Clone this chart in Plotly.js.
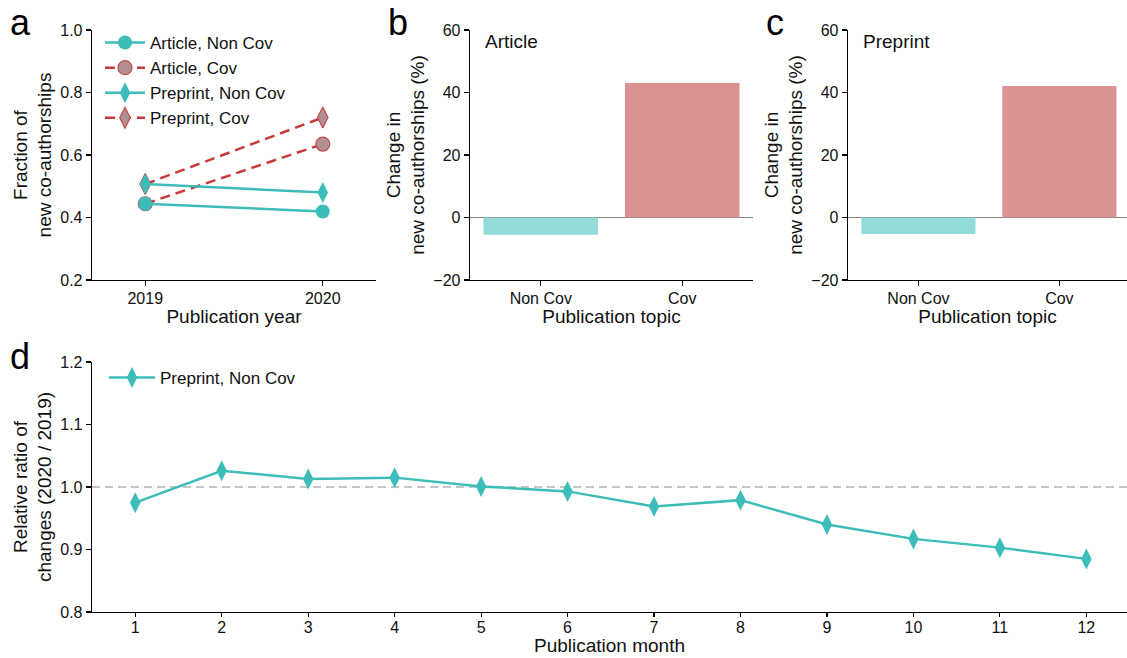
<!DOCTYPE html>
<html>
<head>
<meta charset="utf-8">
<script src="https://cdn.plot.ly/plotly-3.0.1.min.js"></script>
<style>html,body{margin:0;padding:0;background:#fff;}#chart{width:1127px;height:658px;}</style>
</head>
<body>
<div id="chart"></div>
<script>
// ---- Data ----
const years = [2019, 2020];
const articleNonCov = [0.444, 0.419];
const articleCov = [0.444, 0.635];
const preprintNonCov = [0.507, 0.480];
const preprintCov = [0.507, 0.720];

const topics = ["Non Cov", "Cov"];
const articleChange = [-5.5, 43.0];
const preprintChange = [-5.3, 42.1];

const months = [1,2,3,4,5,6,7,8,9,10,11,12];
const preprintNonCovRatio = [0.975, 1.026, 1.013, 1.015, 1.001, 0.993, 0.969, 0.979, 0.940, 0.917, 0.903, 0.885];

// ---- Styles ----
const TEAL = "#3dbdb9";
const RED = "#c93b3b";
const COVMK = "#b09090";
const FONT = "Liberation Sans, Arial, Helvetica, sans-serif";
const W = 1127, H = 658;
const px = v => v / W;
const py = v => 1 - v / H;

const traces = [
  {x: years, y: articleCov, type: "scatter", mode: "lines+markers", name: "Article, Cov",
   line: {color: RED, width: 2.5, dash: "10px,6px"},
   marker: {symbol: "circle", size: 14, color: COVMK, line: {color: "#c24a4a", width: 1.2}},
   xaxis: "x", yaxis: "y", legend: "legend", legendrank: 2},
  {x: years, y: preprintCov, type: "scatter", mode: "lines+markers", name: "Preprint, Cov",
   line: {color: RED, width: 2.5, dash: "10px,6px"},
   marker: {symbol: "diamond-tall", size: 15, color: COVMK, line: {color: "#c24a4a", width: 1.2}},
   xaxis: "x", yaxis: "y", legend: "legend", legendrank: 4},
  {x: years, y: articleNonCov, type: "scatter", mode: "lines+markers", name: "Article, Non Cov",
   line: {color: TEAL, width: 2.5},
   marker: {symbol: "circle", size: 14, color: TEAL},
   xaxis: "x", yaxis: "y", legend: "legend", legendrank: 1},
  {x: years, y: preprintNonCov, type: "scatter", mode: "lines+markers", name: "Preprint, Non Cov",
   line: {color: TEAL, width: 2.5},
   marker: {symbol: "diamond-tall", size: 15, color: TEAL},
   xaxis: "x", yaxis: "y", legend: "legend", legendrank: 3},
  {x: topics, y: articleChange, type: "bar", width: 0.81, showlegend: false,
   marker: {color: ["#93dbd9", "#da9392"]}, xaxis: "x2", yaxis: "y2"},
  {x: topics, y: preprintChange, type: "bar", width: 0.81, showlegend: false,
   marker: {color: ["#93dbd9", "#da9392"]}, xaxis: "x3", yaxis: "y3"},
  {x: months, y: preprintNonCovRatio, type: "scatter", mode: "lines+markers", name: "Preprint, Non Cov",
   line: {color: TEAL, width: 2.5},
   marker: {symbol: "diamond-tall", size: 15, color: TEAL},
   xaxis: "x4", yaxis: "y4", legend: "legend2"}
];

const axBase = {
  showline: true, linecolor: "#000", linewidth: 1.3, mirror: false,
  ticks: "outside", ticklen: 5, tickwidth: 1.2, tickcolor: "#000",
  showgrid: false, zeroline: false,
  tickfont: {family: FONT, size: 16, color: "#111"},
  automargin: false
};
const tfont = {family: FONT, size: 19, color: "#111"};

const layout = {
  width: W, height: H,
  margin: {l: 0, r: 0, t: 0, b: 0},
  paper_bgcolor: "#fff", plot_bgcolor: "#fff",
  font: {family: FONT, color: "#111"},
  xaxis: Object.assign({}, axBase, {domain: [px(92), px(376)], range: [2018.7, 2020.3],
    tickvals: years, ticktext: ["2019", "2020"], anchor: "y", ticklabelstandoff: -2,
    title: {text: "Publication year", font: tfont, standoff: 4}}),
  yaxis: Object.assign({}, axBase, {domain: [py(280), py(30)], range: [0.2, 1.0],
    tickvals: [0.2, 0.4, 0.6, 0.8, 1.0], tickformat: ".1f", anchor: "x",
    title: {text: "Fraction of<br>new co-authorships", font: tfont, standoff: 3}}),
  xaxis2: Object.assign({}, axBase, {domain: [px(470), px(753)], range: [-0.5, 1.5],
    type: "category", anchor: "y2", ticklabelstandoff: -2,
    title: {text: "Publication topic", font: tfont, standoff: 4}}),
  yaxis2: Object.assign({}, axBase, {domain: [py(280), py(30)], range: [-20, 60],
    tickvals: [-20, 0, 20, 40, 60], anchor: "x2",
    zeroline: true, zerolinecolor: "#808080", zerolinewidth: 1.8,
    title: {text: "Change in<br>new co-authorships (%)", font: tfont, standoff: 3}}),
  xaxis3: Object.assign({}, axBase, {domain: [px(848), 1], range: [-0.5, 1.48],
    type: "category", anchor: "y3", ticklabelstandoff: -2,
    title: {text: "Publication topic", font: tfont, standoff: 4}}),
  yaxis3: Object.assign({}, axBase, {domain: [py(280), py(30)], range: [-20, 60],
    tickvals: [-20, 0, 20, 40, 60], anchor: "x3",
    zeroline: true, zerolinecolor: "#808080", zerolinewidth: 1.8,
    title: {text: "Change in<br>new co-authorships (%)", font: tfont, standoff: 3}}),
  xaxis4: Object.assign({}, axBase, {domain: [px(92), 1], range: [0.5, 12.47],
    tickvals: months, anchor: "y4", ticklen: 4, ticklabelstandoff: -4,
    title: {text: "Publication month", font: tfont, standoff: 1}}),
  yaxis4: Object.assign({}, axBase, {domain: [py(612), py(362)], range: [0.8, 1.2],
    tickvals: [0.8, 0.9, 1.0, 1.1, 1.2], tickformat: ".1f", anchor: "x4",
    title: {text: "Relative ratio of<br>changes (2020 / 2019)", font: tfont, standoff: 3}}),
  legend: {x: px(100), y: py(25), xanchor: "left", yanchor: "top",
    bgcolor: "rgba(0,0,0,0)", font: {family: FONT, size: 17, color: "#111"},
    tracegroupgap: 0, itemwidth: 40, traceorder: "normal"},
  legend2: {x: px(104), y: py(360), xanchor: "left", yanchor: "top",
    bgcolor: "rgba(0,0,0,0)", font: {family: FONT, size: 17, color: "#111"}, itemwidth: 46},
  shapes: [
    {type: "line", xref: "x4 domain", yref: "y4", x0: 0, x1: 1, y0: 1.0, y1: 1.0,
     line: {color: "#c4c4c4", width: 2, dash: "8px,5px"}, layer: "below"}
  ],
  annotations: [
    {text: "a", x: px(8), y: py(22), xref: "paper", yref: "paper", xanchor: "left", yanchor: "middle",
     showarrow: false, font: {family: FONT, size: 36, color: "#000"}},
    {text: "b", x: px(386), y: py(22), xref: "paper", yref: "paper", xanchor: "left", yanchor: "middle",
     showarrow: false, font: {family: FONT, size: 36, color: "#000"}},
    {text: "c", x: px(764), y: py(22), xref: "paper", yref: "paper", xanchor: "left", yanchor: "middle",
     showarrow: false, font: {family: FONT, size: 36, color: "#000"}},
    {text: "d", x: px(8), y: py(356), xref: "paper", yref: "paper", xanchor: "left", yanchor: "middle",
     showarrow: false, font: {family: FONT, size: 36, color: "#000"}},
    {text: "Article", x: px(483), y: py(41), xref: "paper", yref: "paper", xanchor: "left", yanchor: "middle",
     showarrow: false, font: {family: FONT, size: 19, color: "#111"}},
    {text: "Preprint", x: px(861), y: py(41), xref: "paper", yref: "paper", xanchor: "left", yanchor: "middle",
     showarrow: false, font: {family: FONT, size: 19, color: "#111"}}
  ],
  showlegend: true
};

Plotly.newPlot("chart", traces, layout, {displayModeBar: false, staticPlot: true});
</script>
</body>
</html>
